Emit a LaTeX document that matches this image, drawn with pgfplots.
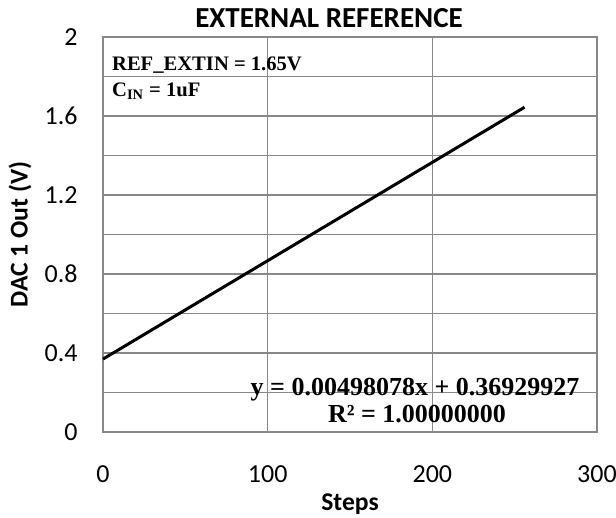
\documentclass[border=0pt]{standalone}
\usepackage{fontspec}
\setmainfont{Carlito}
\newfontfamily\tnr{Liberation Serif}
\usepackage{pgfplots}
\pgfplotsset{compat=1.18}
\definecolor{gridgray}{HTML}{888888}
\begin{document}
\begin{tikzpicture}
\begin{axis}[
    scale only axis,
    width=247pt, height=197.5pt,
    xmin=0, xmax=300, ymin=0, ymax=2,
    xtick={0,100,200,300},
    ytick={0,0.4,0.8,1.2,1.6,2},
    minor ytick={0.2,0.6,1.0,1.4,1.8},
    yticklabels={0,0.4,0.8,1.2,1.6,2},
    grid=both,
    major grid style={gridgray, line width=0.75pt},
    minor grid style={gridgray, line width=0.75pt},
    axis line style={gridgray, line width=1pt},
    major tick length=0pt, minor tick length=0pt,
    tick label style={font=\fontsize{13}{15}\selectfont, /pgf/number format/assume math mode=true},
    xticklabel style={anchor=base, inner sep=0pt, yshift=-25pt},
    yticklabel style={anchor=east, inner sep=0pt, xshift=-12.5pt},
    xlabel={\textbf{Steps}},
    ylabel={\textbf{DAC 1 Out (V)}},
    label style={font=\fontsize{12.8}{14}\selectfont},
    xlabel style={at={(axis description cs:0.5,0)}, anchor=base, inner sep=0pt, yshift=-39pt},
    ylabel style={at={(axis description cs:-0.168,0.5)}, anchor=center, inner sep=0pt},
    clip=false,
]
\addplot[black, line width=1.5pt] coordinates {
    (0, 0.3693) (32, 0.5287) (64, 0.6881) (96, 0.8474) (128, 1.0068)
    (160, 1.1662) (192, 1.3256) (224, 1.4850) (256, 1.6444)
};
\node[anchor=base, font=\bfseries\fontsize{14.5}{16}\selectfont, inner sep=0pt] at ([xshift=-10.5pt,yshift=4.5pt]rel axis cs:0.5,1) {EXTERNAL REFERENCE};
\node[anchor=base west, font=\tnr\bfseries\fontsize{10.3}{12}\selectfont, inner sep=0pt] at (axis cs:5.3,1.829) {REF\_EXTIN = 1.65V};
\node[anchor=base west, font=\tnr\bfseries\fontsize{10.3}{12}\selectfont, inner sep=0pt] at (axis cs:5.3,1.701) {C\textsubscript{IN} = 1uF};
\node[anchor=base, font=\tnr\bfseries\fontsize{13}{15}\selectfont, inner sep=0pt] at (axis cs:189.5,0.187) {y = 0.00498078x + 0.36929927};
\node[anchor=base, font=\tnr\bfseries\fontsize{13}{15}\selectfont, inner sep=0pt] at (axis cs:190.7,0.046) {R² = 1.00000000};
\end{axis}
\pgfresetboundingbox
\useasboundingbox ([xshift=-51.5pt,yshift=-42.5pt]current axis.south west) rectangle ([xshift=9.5pt,yshift=18.5pt]current axis.north east);
\end{tikzpicture}
\end{document}
